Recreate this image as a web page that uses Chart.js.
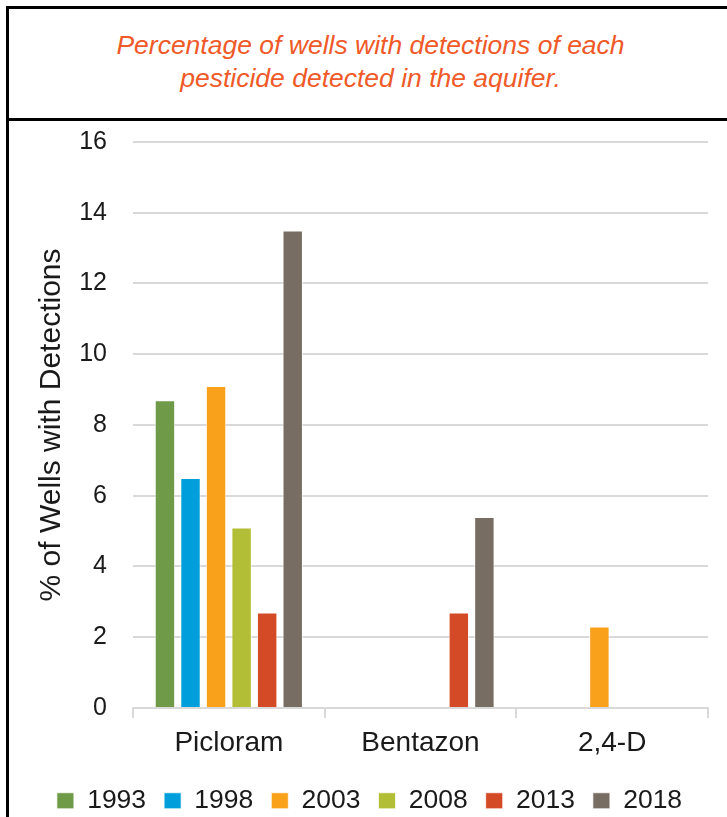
<!DOCTYPE html>
<html>
<head>
<meta charset="utf-8">
<script src="https://cdn.jsdelivr.net/npm/chart.js@4.4.1/dist/chart.umd.min.js"></script>
<style>
  html, body { margin: 0; padding: 0; background: #fff; overflow: hidden; }
  #frame {
    position: absolute; left: 6px; top: 6px;
    width: 723px; border: 3px solid #000;
    font-family: "Liberation Sans", Arial, sans-serif;
  }
  #title {
    height: 112px; border-bottom: 3px solid #000;
    display: flex; align-items: center; justify-content: center;
    text-align: center; color: #EF5A28; font-style: italic;
    font-size: 26.5px; line-height: 33px; padding-bottom: 4px; box-sizing: border-box;
  }
  #wrap { position: relative; width: 723px; height: 703px; }
</style>
</head>
<body>
<div id="frame">
  <div id="title">Percentage of wells with detections of each<br>pesticide detected in the aquifer.</div>
  <div id="wrap"><canvas id="chart"></canvas></div>
</div>
<script>
// Chart data
const categories = ['Picloram', 'Bentazon', '2,4-D'];
const years = ['1993', '1998', '2003', '2008', '2013', '2018'];
const values1993 = [8.7, null, null];
const values1998 = [6.5, null, null];
const values2003 = [9.1, null, 2.3];
const values2008 = [5.1, null, null];
const values2013 = [2.7, 2.7, null];
const values2018 = [13.5, 5.4, null];
const yTicks = [0, 2, 4, 6, 8, 10, 12, 14, 16];

const seriesColors = ['#6F9A48', '#009FDB', '#F9A11B', '#B2BE35', '#D44A27', '#786D63'];
const seriesValues = [values1993, values1998, values2003, values2008, values2013, values2018];

const TEXT_COLOR = '#1a1a1a';
const GRID_COLOR = '#d9d9d9';

const datasets = years.map((year, i) => ({
  label: year,
  data: seriesValues[i],
  backgroundColor: seriesColors[i],
  borderColor: 'rgba(255,255,255,0.7)',
  borderWidth: 1,
  categoryPercentage: 0.8,
  barPercentage: 0.8
}));

new Chart(document.getElementById('chart'), {
  type: 'bar',
  data: { labels: categories, datasets: datasets },
  options: {
    responsive: true,
    maintainAspectRatio: false,
    animation: false,
    layout: { padding: { left: 22, right: 24, top: 21, bottom: 0 } },
    scales: {
      x: {
        offset: true,
        grid: {
          offset: true,
          drawOnChartArea: false,
          drawTicks: true,
          tickLength: 10,
          color: GRID_COLOR,
          lineWidth: 2
        },
        border: { display: true, color: GRID_COLOR, width: 2 },
        ticks: {
          color: TEXT_COLOR,
          padding: 9,
          font: { family: 'Liberation Sans', size: 28 }
        }
      },
      y: {
        min: 0,
        max: 16,
        afterBuildTicks: axis => { axis.ticks = yTicks.map(v => ({ value: v })); },
        // fixed axis width, and no extra top/bottom padding from the tick gap
        afterFit: axis => {
          axis.width = 102;
          axis.paddingTop = 0;
          axis.paddingBottom = 0;
        },
        grid: { color: GRID_COLOR, lineWidth: 2, drawTicks: false },
        border: { display: false },
        ticks: {
          color: TEXT_COLOR,
          padding: 26,
          font: { family: 'Liberation Sans', size: 25 }
        },
        title: {
          display: true,
          text: '% of Wells with Detections',
          color: TEXT_COLOR,
          padding: { top: 3, bottom: 0 },
          font: { family: 'Liberation Sans', size: 30 }
        }
      }
    },
    plugins: {
      legend: {
        position: 'bottom',
        labels: {
          color: TEXT_COLOR,
          boxWidth: 17,
          boxHeight: 16,
          padding: 18,
          font: { family: 'Liberation Sans', size: 26.5 }
        }
      },
      tooltip: { enabled: false }
    }
  }
});
</script>
</body>
</html>
